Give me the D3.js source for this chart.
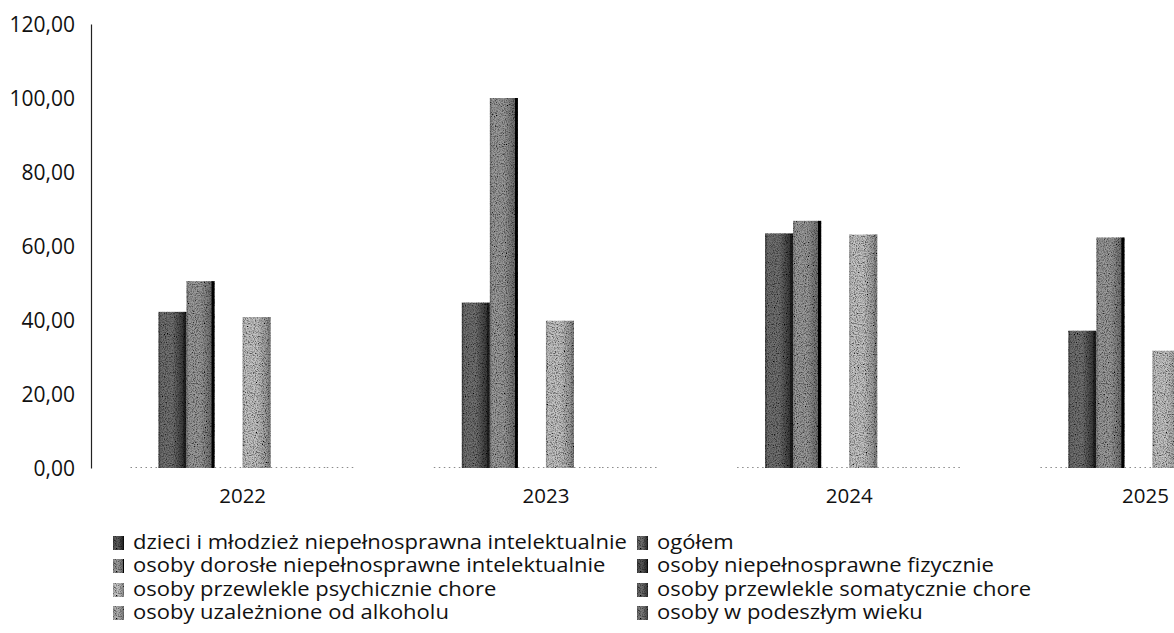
<!DOCTYPE html>
<html><head><meta charset="utf-8">
<script src="https://cdn.jsdelivr.net/npm/d3@7"></script>
<style>
html,body{margin:0;padding:0;background:#fff;overflow:hidden;}
text{font-family:"Open Sans","Noto Sans",sans-serif;fill:#111;}
</style></head>
<body>
<svg id="chart" width="1174" height="633"></svg>
<script>
const years = ["2022","2023","2024","2025"];
const seriesNames = [
  "dzieci i młodzież niepełnosprawna intelektualnie",
  "ogółem",
  "osoby dorosłe niepełnosprawne intelektualnie",
  "osoby niepełnosprawne fizycznie",
  "osoby przewlekle psychicznie chore",
  "osoby przewlekle somatycznie chore",
  "osoby uzależnione od alkoholu",
  "osoby w podeszłym wieku"
];
// values per series, one per year
const dzieci      = [0, 0, 0, 0];
const ogolem      = [42.2, 44.7, 63.4, 37.1];
const dorosle     = [50.5, 100.0, 66.8, 62.3];
const fizycznie   = [0, 0, 0, 0];
const psychicznie = [40.8, 39.8, 63.1, 31.7];
const somatycznie = [0, 0, 0, 0];
const alkohol     = [0, 0, 0, 0];
const podeszly    = [0, 0, 0, 0];
const seriesValues = [dzieci, ogolem, dorosle, fizycznie, psychicznie, somatycznie, alkohol, podeszly];
const yTicks = [0, 20, 40, 60, 80, 100, 120];

// grayscale tones: [edge, center, rightEdge]
const tones = [
  ["#2a2a2a","#5a5a5a","#111"],
  ["#3a3a3a","#707070","#222"],
  ["#6e6e6e","#9a9a9a","#000"],
  ["#2e2e2e","#555","#111"],
  ["#9a9a9a","#c4c4c4","#888"],
  ["#444","#6c6c6c","#333"],
  ["#8a8a8a","#b0b0b0","#777"],
  ["#555","#7c7c7c","#444"]
];

const W = 1174;
const svg = d3.select("#chart");
const defs = svg.append("defs");
const f = defs.append("filter").attr("id","grain").attr("x","0").attr("y","0").attr("width","1").attr("height","1");
f.append("feTurbulence").attr("type","fractalNoise").attr("baseFrequency","0.9").attr("numOctaves","2").attr("seed","3").attr("result","noise");
f.append("feColorMatrix").attr("in","noise").attr("type","matrix")
  .attr("values","0 0 0 0 0  0 0 0 0 0  0 0 0 0 0  0 0 0 -2.2 1.35").attr("result","dots");
f.append("feComposite").attr("in","dots").attr("in2","SourceGraphic").attr("operator","in").attr("result","dotsIn");
f.append("feBlend").attr("in","SourceGraphic").attr("in2","dotsIn").attr("mode","multiply");

tones.forEach((t,i)=>{
  const g = defs.append("linearGradient").attr("id","g"+i).attr("x1","0").attr("x2","1").attr("y1","0").attr("y2","0");
  g.append("stop").attr("offset","0").attr("stop-color",t[0]);
  g.append("stop").attr("offset","0.08").attr("stop-color",t[1]);
  g.append("stop").attr("offset","0.5").attr("stop-color",t[1]);
  g.append("stop").attr("offset","0.88").attr("stop-color",t[0]);
  g.append("stop").attr("offset","0.9").attr("stop-color",t[2]);
  g.append("stop").attr("offset","1").attr("stop-color",t[2]);
});

const left = 91, baseY = 468, topY = 24;
const bandW = 303.3;
const x0 = d3.scaleBand().domain(years).range([left, left + bandW*years.length]).padding(0);
const x1 = d3.scaleBand().domain(d3.range(seriesNames.length)).range([39.5, bandW - 39.5]).padding(0);
const y = d3.scaleLinear().domain([0,120]).range([baseY, topY]);

const locale = d3.formatLocale({decimal:",", thousands:" ", grouping:[3], currency:["","zł"]});
const fmt = locale.format(".2f");

const yAxis = svg.append("g").attr("transform",`translate(${left},0)`)
  .call(d3.axisLeft(y).tickValues(yTicks).tickFormat(fmt).tickSize(0).tickPadding(16));
yAxis.select(".domain").attr("stroke","#222").attr("stroke-width",1.2);
yAxis.selectAll("text").style("font-size","21px").attr("dy","0.35em").style("fill","#111");

const groups = svg.append("g").selectAll("g").data(years).join("g")
  .attr("transform", d=>`translate(${x0(d)},0)`);

groups.each(function(yr, yi){
  const g = d3.select(this);
  seriesValues.forEach((vals, si)=>{
    const v = vals[yi];
    const bx = x1(si), bw = x1.bandwidth();
    if (v > 0) {
      g.append("rect").attr("x",bx).attr("y",y(v)).attr("width",bw).attr("height",y(0)-y(v))
        .attr("fill",`url(#g${si})`).attr("filter","url(#grain)");
    } else {
      g.append("line").attr("x1",bx).attr("x2",bx+bw).attr("y1",y(0)-0.5).attr("y2",y(0)-0.5)
        .attr("stroke","#8a8a8a").attr("stroke-width",1.2).attr("stroke-dasharray","1.5,3.5");
    }
  });
});

const yl = svg.append("g").selectAll("text").data(years).join("text")
  .attr("x", d=>x0(d)+x0.bandwidth()/2).attr("y", 498).attr("text-anchor","middle")
  .attr("dominant-baseline","middle").style("font-size","20.5px").text(d=>d);
yl.each(function(){
  const t = d3.select(this), w = this.getComputedTextLength();
  const cx = +t.attr("x");
  if (cx + w/2 > W - 5) t.attr("x", W - 5 - w/2);
});

// legend (row-major, two columns)
const legCols = [113, 637];
const legRows = [543, 566, 590, 613];
const leg = svg.append("g").selectAll("g").data(seriesNames).join("g")
  .attr("transform",(d,i)=>`translate(${legCols[i%2]},${legRows[Math.floor(i/2)]})`);
leg.append("text").attr("transform","translate(20,1) scale(1.1,1)").attr("dominant-baseline","middle")
  .style("font-size","20px").text(d=>d);
leg.append("rect").attr("x",0).attr("y",-7).attr("width",11).attr("height",14)
  .attr("fill",(d,i)=>`url(#g${i})`).attr("filter","url(#grain)");
</script>
</body></html>
